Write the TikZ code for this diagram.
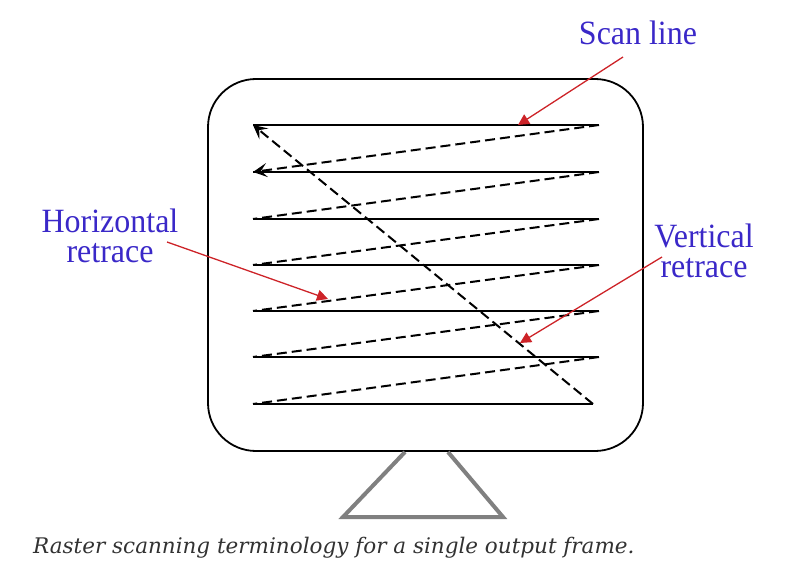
\documentclass[tikz,border=0pt]{standalone}
\usepackage{fontspec}
\setmainfont{Liberation Serif}
\newfontfamily\capfont{DejaVu Serif}
\usetikzlibrary{arrows.meta}
\definecolor{lblblue}{RGB}{58,40,200}
\definecolor{arrred}{RGB}{205,35,40}
\definecolor{standgray}{RGB}{128,128,128}
\definecolor{capgray}{RGB}{50,50,50}
\tikzset{
  lbl/.style={text=lblblue, font=\fontsize{34}{30}\selectfont, inner sep=0pt, align=center},
  scanline/.style={draw=black, line width=1.9pt},
  retrace/.style={draw=black, line width=2pt, dash pattern=on 10pt off 5pt},
  btip/.style={-{Stealth[length=14pt,width=14pt,inset=6pt]}},
  redarrow/.style={draw=arrred, line width=1.3pt, -{Triangle[length=11pt,width=11pt]}, color=arrred},
  monitor/.style={draw=black, line width=1.8pt, rounded corners=48pt, minimum width=435pt, minimum height=372pt, inner sep=0pt},
  stand/.style={draw=standgray, line width=4pt, line join=miter},
}
\begin{document}
\begin{tikzpicture}[x=1pt,y=-1pt]
\useasboundingbox (0,0) rectangle (798,580);
% monitor
\node[monitor] (screen) at (425.5,265) {};
% stand
\coordinate (s1) at (405,452);
\coordinate (s2) at (343,517);
\coordinate (s3) at (503,517);
\coordinate (s4) at (448,452);
\draw[stand] (s1) -- (s2) -- (s3) -- (s4);
% scan lines
\foreach \i/\y in {1/125,2/172,3/219,4/265,5/311,6/357}{
  \coordinate (L\i) at (253,\y);
  \coordinate (R\i) at (599,\y);
}
\coordinate (L7) at (253,404);
\coordinate (R7) at (593,404);
\foreach \i in {1,...,7}{ \draw[scanline] (L\i) -- (R\i); }
% horizontal retraces
\draw[retrace,btip] (R1) -- (L2);
\foreach \i/\j in {2/3,3/4,4/5,5/6,6/7}{ \draw[retrace] (R\i) -- (L\j); }
% vertical retrace
\draw[retrace,btip] (R7) -- (L1);
% labels
\node[lbl, anchor=base] (scan) at (638,45) {\scalebox{0.94}[1]{Scan line}};
\node[lbl, anchor=base] (hor) at (110,262) {\scalebox{0.94}[1]{Horizontal}\\\scalebox{0.94}[1]{retrace}};
\node[lbl, anchor=base] (ver) at (704,277) {\scalebox{0.94}[1]{Vertical}\\\scalebox{0.94}[1]{retrace}};
% red pointer arrows
\coordinate (scanS) at (623,57);
\coordinate (scanT) at (518,125);
\coordinate (horS) at (167,242);
\coordinate (horT) at (328,299);
\coordinate (verS) at (662,257);
\coordinate (verT) at (520,343);
\draw[redarrow] (scanS) -- (scanT);
\draw[redarrow] (horS) -- (horT);
\draw[redarrow] (verS) -- (verT);
% caption
\node[anchor=base west, inner sep=0pt, text=capgray, font=\capfont\itshape\fontsize{21.5}{24}\selectfont] (caption) at (33,553) {Raster scanning terminology for a single output frame.};
\end{tikzpicture}
\end{document}
